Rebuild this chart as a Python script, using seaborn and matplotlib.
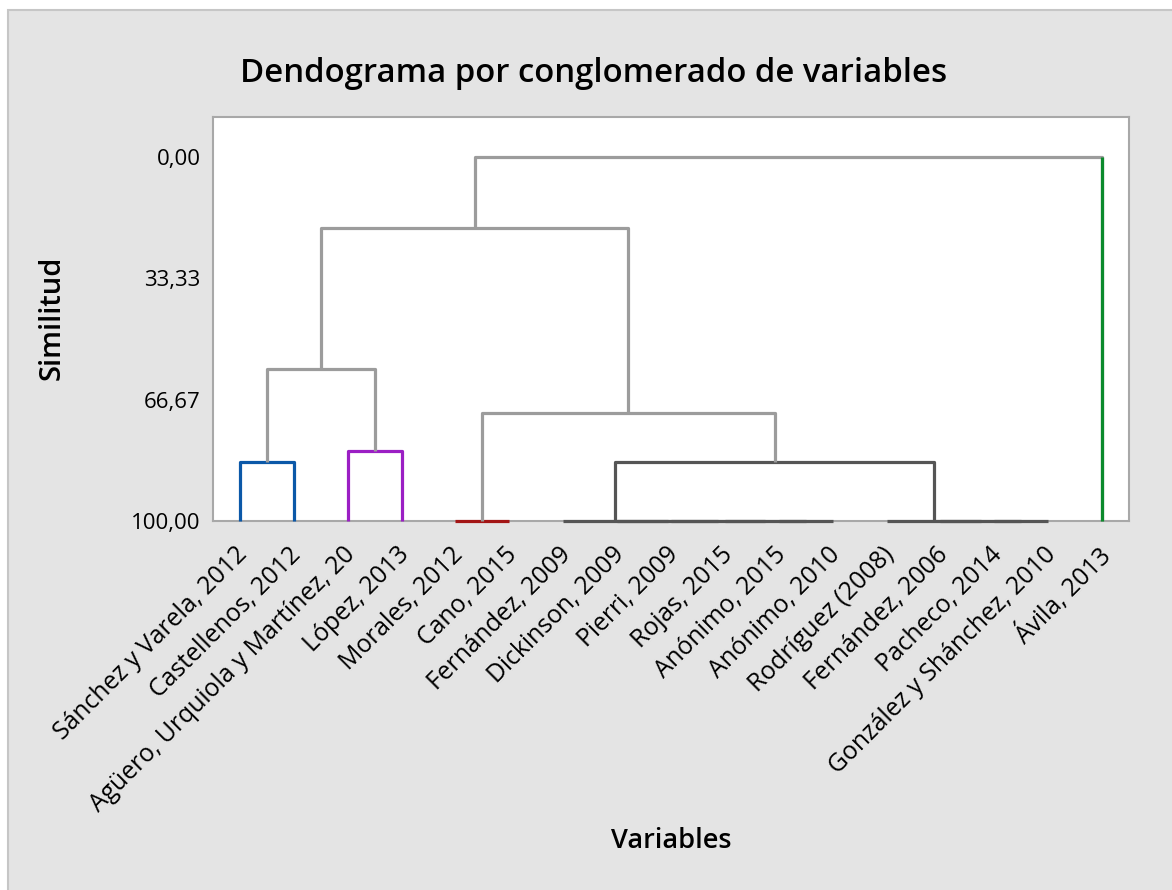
import numpy as np
import pandas as pd
import seaborn as sns
import matplotlib.pyplot as plt
from matplotlib.patches import Rectangle
from matplotlib.transforms import ScaledTranslation

# -------- DATA --------
leaves = [
    "Sánchez y Varela, 2012", "Castellenos, 2012", "Agüero, Urquiola y Martínez, 20",
    "López, 2013", "Morales, 2012", "Cano, 2015", "Fernández, 2009", "Dickinson, 2009",
    "Pierri, 2009", "Rojas, 2015", "Anónimo, 2015", "Anónimo, 2010", "Rodríguez (2008)",
    "Fernández, 2006", "Pacheco, 2014", "González y Shánchez, 2010", "Ávila, 2013",
]

# merges like a linkage table: node ids 0..16 are leaves, 17.. are merges in order
merge_left = [10, 9, 8, 7, 6, 14, 13, 12, 4, 0, 2, 21, 26, 25, 29, 31]
merge_right = [11, 17, 18, 19, 20, 15, 22, 23, 5, 1, 3, 24, 27, 28, 30, 16]
merge_sim = [100, 100, 100, 100, 100, 100, 100, 100, 100, 83.8, 80.8, 83.8,
             58.2, 70.3, 19.5, 0.0]
merge_group = ["dark", "dark", "dark", "dark", "dark", "dark", "dark", "dark", "red",
               "blue", "purple", "dark", "link", "link", "link", "link"]

single_leaves = [16]
single_group = ["green"]

yticks = [0.0, 33.33, 66.67, 100.0]
ytick_labels = ["0,00", "33,33", "66,67", "100,00"]

palette = {"dark": "#555555", "red": "#a31515", "blue": "#0b58a8",
           "purple": "#9b1fc4", "link": "#9c9c9c", "green": "#0c8a2c"}

# -------- BUILD SEGMENTS --------
n = len(leaves)
node_x = {i: i + 1 for i in range(n)}
node_y = {i: 100.0 for i in range(n)}
rows = []
for k, (a, b, s, g) in enumerate(zip(merge_left, merge_right, merge_sim, merge_group)):
    pts = [(node_x[a], node_y[a]), (node_x[a], s), (node_x[b], s), (node_x[b], node_y[b])]
    for x, y in pts:
        rows.append({"x": x, "y": y, "link": f"m{k}", "grp": g})
    node_x[n + k] = (node_x[a] + node_x[b]) / 2
    node_y[n + k] = s

# leaves forming a cluster on their own get a coloured stem up to their parent
for leaf, g in zip(single_leaves, single_group):
    parent = [k for k in range(len(merge_left)) if leaf in (merge_left[k], merge_right[k])][0]
    rows.append({"x": node_x[leaf], "y": 100.0, "link": f"s{leaf}", "grp": g})
    rows.append({"x": node_x[leaf], "y": merge_sim[parent], "link": f"s{leaf}", "grp": g})

df = pd.DataFrame(rows)

# -------- PLOT --------
sns.set_style("white")
plt.rcParams["font.family"] = ["Open Sans", "DejaVu Sans"]
plt.rcParams["text.color"] = "black"

fig = plt.figure(figsize=(11.72, 8.90), dpi=100)
fig.patch.set_facecolor("white")
fig.add_artist(Rectangle((8 / 1172, -0.01), 1.0, 1 - 10 / 890 + 0.01,
                         transform=fig.transFigure, facecolor="#e4e4e4",
                         edgecolor="#c6c6c6", linewidth=1.5, zorder=0))

ax = fig.add_axes([213 / 1172, 1 - 521 / 890, (1129 - 213) / 1172, (521 - 117) / 890])
ax.set_facecolor("white")

sns.lineplot(data=df, x="x", y="y", units="link", hue="grp", palette=palette,
             estimator=None, sort=False, linewidth=2.3, legend=False, ax=ax)
for ln in ax.get_lines():
    ln.set_clip_on(False)
    ln.set_solid_capstyle("butt")
    ln.set_zorder(3)

ax.set_xlim(0.5, 17.5)
ax.set_ylim(100, -11)
ax.set_xticks(range(1, n + 1))
ax.set_xticklabels(leaves, rotation=45, ha="right", rotation_mode="anchor",
                   fontsize=17.8, color="black")
ax.set_yticks(yticks)
ax.set_yticklabels(ytick_labels, fontsize=16, color="black")
ax.tick_params(axis="both", direction="out", length=6, width=1.5, color="#a0a0a0",
               pad=3)
ax.tick_params(axis="x", pad=5)
shift = ScaledTranslation(-5 / 100, -6 / 100, fig.dpi_scale_trans)
for lab in ax.get_xticklabels():
    lab.set_transform(lab.get_transform() + shift)
for sp in ax.spines.values():
    sp.set_color("#a8a8a8")
    sp.set_linewidth(1.5)
ax.set_xlabel("")
ax.set_ylabel("")

fig.text(594 / 1172, 1 - 73 / 890, "Dendograma por conglomerado de variables",
         ha="center", va="center", fontsize=23.7, fontweight="semibold")
fig.text(52 / 1172, 1 - 318 / 890, "Similitud", rotation=90, ha="center", va="center",
         fontsize=21, fontweight="semibold")
fig.text(671 / 1172, 1 - 841 / 890, "Variables", ha="center", va="center",
         fontsize=19.5, fontweight="semibold")

fig.savefig("out.png", dpi=100, facecolor=fig.get_facecolor())
